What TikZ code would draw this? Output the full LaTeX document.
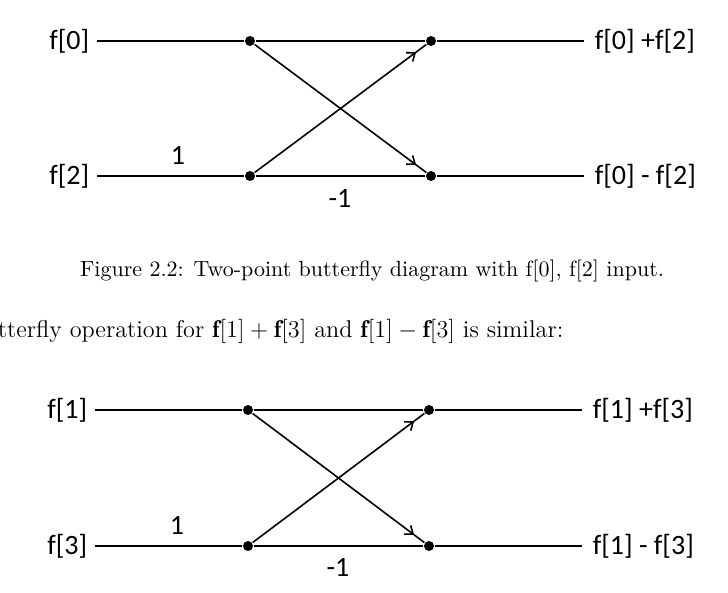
\documentclass[tikz,border=0pt,12pt]{standalone}
\usepackage{fontspec}
\usepackage{amsmath}
\usepackage{tikz}
\usetikzlibrary{arrows.meta,decorations.markings}
\newfontfamily\calib{Carlito}

\tikzset{
  dot/.style={circle, fill, inner sep=0pt, minimum size=10pt},
  sig/.style={font=\calib\fontsize{28}{32}\selectfont, inner sep=5pt, inner xsep=7pt},
  res/.style={sig, inner xsep=10pt},
  capt/.style={scale=2.01, inner sep=0pt, font=\small},
  body/.style={scale=2.02, inner sep=0pt},
  flow/.style={decoration={markings, mark=at position 0.94 with {\arrow{Straight Barb[length=7pt,width=11pt]}}}, postaction={decorate}}
}

\begin{document}
\begin{tikzpicture}[x=1pt, y=-1pt, line width=1.6pt]
    \useasboundingbox (0,0) rectangle (728,592);

    % First butterfly
    \node[dot] (a0) at (250,41) {};
    \node[dot] (a2) at (250,176) {};
    \node[dot] (b0) at (431,41) {};
    \node[dot] (b2) at (431,176) {};
    \node[sig, anchor=east] (f0) at (97,41) {f[0]};
    \node[sig, anchor=east] (f2) at (97,176) {f[2]};
    \node[res, anchor=west] (s0) at (584,41) {f[0] +f[2]};
    \node[res, anchor=west] (d0) at (584,176) {f[0] - f[2]};
    \node[sig] (w0) at (178,155) {1};
    \node[sig] (m0) at (340,198) {-1};

    \draw (f0) -- (a0) -- (b0) -- (s0);
    \draw (f2) -- (a2) -- (b2) -- (d0);
    \draw[flow] (a0) -- (b2);
    \draw[flow] (a2) -- (b0);

    % Text between
    \node[capt, anchor=base] (cap) at (372,276) {Figure 2.2: Two-point butterfly diagram with f[0], f[2] input.};
    \node[body, anchor=base east] (txt) at (565,337) {tterfly operation for $\mathbf{f}[1]+\mathbf{f}[3]$ and $\mathbf{f}[1]-\mathbf{f}[3]$ is similar:};

    % Second butterfly
    \node[dot] (a1) at (248,410) {};
    \node[dot] (a3) at (248,546) {};
    \node[dot] (b1) at (429,410) {};
    \node[dot] (b3) at (429,546) {};
    \node[sig, anchor=east] (f1) at (95,410) {f[1]};
    \node[sig, anchor=east] (f3) at (95,546) {f[3]};
    \node[res, anchor=west] (s1) at (582,410) {f[1] +f[3]};
    \node[res, anchor=west] (d1) at (582,546) {f[1] - f[3]};
    \node[sig] (w1) at (177,525) {1};
    \node[sig] (m1) at (338,567) {-1};

    \draw (f1) -- (a1) -- (b1) -- (s1);
    \draw (f3) -- (a3) -- (b3) -- (d1);
    \draw[flow] (a1) -- (b3);
    \draw[flow] (a3) -- (b1);
\end{tikzpicture}
\end{document}
